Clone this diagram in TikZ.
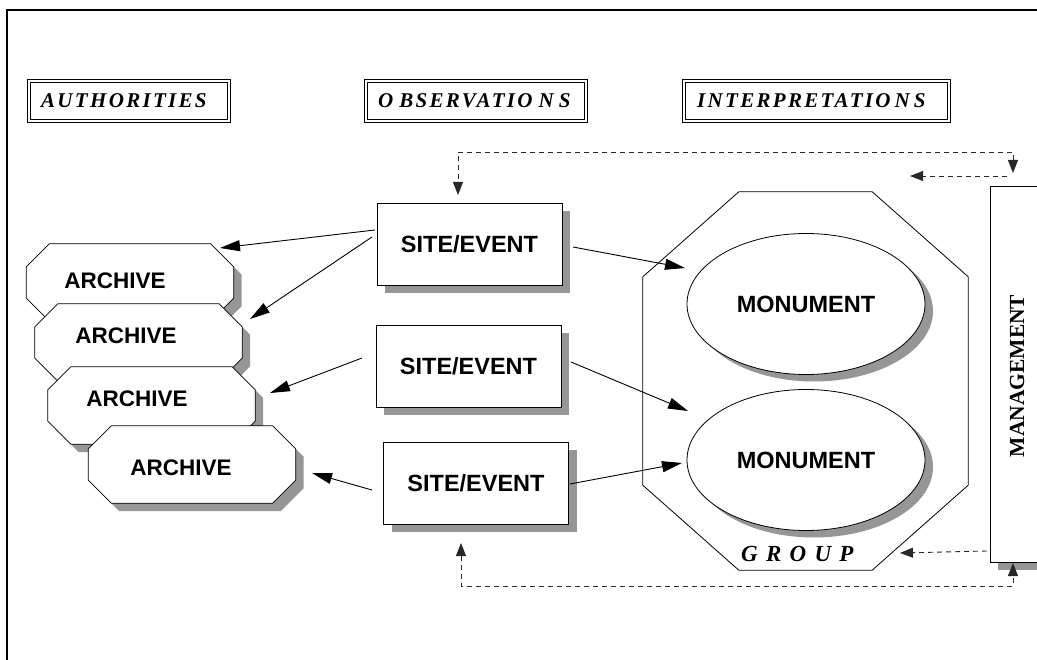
\documentclass[tikz,border=0pt]{standalone}
\usepackage{fontspec}
\setmainfont{Liberation Serif}
\setsansfont{Liberation Sans}
\newfontfamily\hdrfont[LetterSpace=11]{Liberation Serif}
\newfontfamily\grpfont[LetterSpace=36]{Liberation Serif}
\usetikzlibrary{shapes.geometric,shadows,arrows.meta}
\definecolor{shadowgray}{RGB}{150,150,150}
\definecolor{dashgray}{RGB}{40,40,40}
\newcommand\octpath[5]{([shift={(#2+#4,#5)}]#1.north west) -- ([shift={(-#2+#4,#5)}]#1.north east) -- ([shift={(#4,#3+#5)}]#1.north east) -- ([shift={(#4,-#3+#5)}]#1.south east) -- ([shift={(-#2+#4,#5)}]#1.south east) -- ([shift={(#2+#4,#5)}]#1.south west) -- ([shift={(#4,-#3+#5)}]#1.south west) -- ([shift={(#4,#3+#5)}]#1.north west) -- cycle}
\tikzset{
  shadowed/.style={drop shadow={fill=shadowgray,opacity=1,shadow xshift=8pt,shadow yshift=-8pt}},
  sitebox/.style={draw,line width=0.8pt,fill=white,shadowed,minimum width=185pt,minimum height=82pt,inner sep=0pt,font=\sffamily\bfseries\fontsize{23.5}{27}\selectfont},
  monu/.style={ellipse,draw,line width=0.8pt,fill=white,drop shadow={fill=shadowgray,opacity=1,shadow xshift=8pt,shadow yshift=-7pt},minimum width=238pt,minimum height=141pt,inner sep=0pt,font=\sffamily\bfseries\fontsize{23.5}{27}\selectfont},
  archbox/.style={inner sep=0pt,minimum width=207pt,minimum height=77pt},
  archtext/.style={inner sep=0pt,font=\sffamily\bfseries\fontsize{22.5}{26}\selectfont},
  hdrbox/.style={draw,line width=0.9pt,double=white,double distance=2pt,inner sep=0pt,minimum height=40pt},
  hdrtext/.style={anchor=west,inner sep=0pt,font=\hdrfont\bfseries\itshape\fontsize{21}{25}\selectfont},
  arr/.style={line width=0.9pt,-{Triangle[length=20pt,width=11pt]}},
  darr/.style={line width=0.9pt,dashgray,dash pattern=on 5pt off 4pt,-{Triangle[length=13pt,width=10pt]}},
  darrboth/.style={line width=0.9pt,dashgray,dash pattern=on 5pt off 4pt,{Triangle[length=13pt,width=10pt]}-{Triangle[length=13pt,width=10pt]}}
}
\begin{document}
\begin{tikzpicture}[x=1pt,y=-1pt]
\useasboundingbox (0,0) rectangle (1037,660);
% frame
\draw[line width=1.6pt] (7,10) rectangle (1120,720);
% headers
\node[hdrbox,minimum width=200pt] (authbox) at (129,101) {};
\node[hdrtext] (auth) at (41,101) {AUTHORITIES};
\node[hdrbox,minimum width=220pt] (obsbox) at (476,101) {};
\node[hdrtext] (obs) at (378,101) {O\kern6pt BSERVATIO\kern6pt N\kern5pt S};
\node[hdrbox,minimum width=265pt] (intbox) at (816.5,101) {};
\node[hdrtext] (int) at (697,101) {INTERPRETATIO\kern4pt N\kern4pt S};
% group
\node[inner sep=0pt,minimum width=325pt,minimum height=378pt] (grp) at (805.5,381) {};
\draw[line width=0.8pt,fill=white] \octpath{grp}{96}{85}{0}{0};
\node[inner sep=0pt,anchor=west,font=\grpfont\bfseries\itshape\fontsize{23}{27}\selectfont] (grpt) at (741,554) {GROUP};
% monuments
\node[monu] (m1) at (806,304) {MONUMENT};
\node[monu] (m2) at (806,460) {MONUMENT};
% site/event
\node[sitebox] (s1) at (469.5,244.5) {SITE/EVENT};
\node[sitebox] (s2) at (468.5,366) {SITE/EVENT};
\node[sitebox] (s3) at (476,483) {SITE/EVENT};
% archives
\node[archbox] (a1) at (130,282.5) {};
\fill[shadowgray] \octpath{a1}{23}{23}{8}{8};
\draw[line width=0.8pt,fill=white] \octpath{a1}{23}{23}{0}{0};
\node[archtext] (a1t) at (115,281) {ARCHIVE};
\node[archbox] (a2) at (138.5,342.5) {};
\fill[shadowgray] \octpath{a2}{23}{23}{8}{8};
\draw[line width=0.8pt,fill=white] \octpath{a2}{23}{23}{0}{0};
\node[archtext] (a2t) at (126,336) {ARCHIVE};
\node[archbox] (a3) at (151.5,405.5) {};
\fill[shadowgray] \octpath{a3}{23}{23}{8}{8};
\draw[line width=0.8pt,fill=white] \octpath{a3}{23}{23}{0}{0};
\node[archtext] (a3t) at (137,399) {ARCHIVE};
\node[archbox] (a4) at (192,464.5) {};
\fill[shadowgray] \octpath{a4}{23}{23}{8}{8};
\draw[line width=0.8pt,fill=white] \octpath{a4}{23}{23}{0}{0};
\node[archtext] (a4t) at (181,468) {ARCHIVE};
% management
\node[draw,line width=0.8pt,fill=white,shadowed,anchor=north west,minimum width=110pt,minimum height=376pt,inner sep=0pt] (mgmt) at (990,186) {};
\node[rotate=90,inner sep=0pt,font=\rmfamily\bfseries\fontsize{21.5}{26}\selectfont] (mgmtt) at (1017,376) {MANAGEMENT};
% connector end points
\coordinate (s1a) at (375,230); \coordinate (a1p) at (220,248);
\coordinate (s1b) at (372,237); \coordinate (a2p) at (250,319);
\coordinate (s2a) at (362,358); \coordinate (a3p) at (270,393);
\coordinate (s3a) at (372,490); \coordinate (a4p) at (312,473);
\coordinate (s1c) at (573,247); \coordinate (m1p) at (685,268);
\coordinate (s2c) at (571,362); \coordinate (m2p) at (688,411);
\coordinate (s3c) at (570,484); \coordinate (m2q) at (682,463);
\coordinate (mtop) at (1013,173); \coordinate (trc) at (1013,152);
\coordinate (tlc) at (458,152); \coordinate (s1top) at (458,195);
\coordinate (mt2) at (1007,176); \coordinate (grptop) at (910,176);
\coordinate (mleft) at (987,551); \coordinate (grpr) at (900,553);
\coordinate (s3bot) at (461,543); \coordinate (blc) at (461,586);
\coordinate (brc) at (1013,586); \coordinate (mbot) at (1013,563);
% solid connectors
\draw[arr] (s1a) -- (a1p);
\draw[arr] (s1b) -- (a2p);
\draw[arr] (s2a) -- (a3p);
\draw[arr] (s3a) -- (a4p);
\draw[arr] (s1c) -- (m1p);
\draw[arr] (s2c) -- (m2p);
\draw[arr] (s3c) -- (m2q);
% dashed connectors
\draw[darrboth] (mtop) -- (trc) -- (tlc) -- (s1top);
\draw[darr] (mt2) -- (grptop);
\draw[darr] (mleft) -- (grpr);
\draw[darrboth] (s3bot) -- (blc) -- (brc) -- (mbot);
\end{tikzpicture}
\end{document}
